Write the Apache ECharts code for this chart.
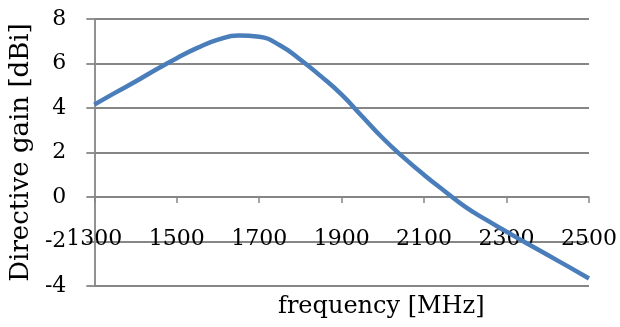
<!DOCTYPE html>
<html>
<head>
<meta charset="utf-8">
<script src="https://cdn.jsdelivr.net/npm/echarts@6/dist/echarts.min.js"></script>
<style>
  html, body { margin: 0; padding: 0; background: #fff; }
  #chart { width: 620px; height: 327px; }
</style>
</head>
<body>
<div id="chart"></div>
<script>
  // frequency [MHz] and directive gain [dBi]
  var freq = [1300, 1350, 1400, 1450, 1500, 1550, 1600, 1650, 1700, 1750, 1800, 1850, 1900,
    1950, 2000, 2050, 2100, 2150, 2200, 2250, 2300, 2350, 2400, 2450, 2500]
  var gain = [4.15, 4.68, 5.19, 5.73, 6.24, 6.70, 7.07, 7.26, 7.20, 6.82, 6.17, 5.42, 4.60,
    3.62, 2.64, 1.78, 0.99, 0.26, -0.44, -1.02, -1.56, -2.09, -2.61, -3.13, -3.66]
  var xTicks = [1300, 2500, 200]
  var yTicks = [-4, 8, 2]

  var fontFamily = 'DejaVu Serif'
  var grey = '#868686'

  var mychart = echarts.init(document.getElementById('chart'))
  var options = {
    animation: false,
    title: {
      text: 'frequency [MHz]',
      left: 273,
      top: 290,
      textStyle: { fontFamily: fontFamily, fontSize: 24, fontWeight: 'normal', color: '#000' }
    },
    grid: {
      left: 88,
      right: 31,
      top: 19,
      bottom: 41
    },
    xAxis: {
      type: 'value',
      min: xTicks[0],
      max: xTicks[1],
      interval: xTicks[2],
      offset: -89, // x axis crosses the y axis at 0
      axisLine: { onZero: false, lineStyle: { color: grey, width: 1.5 } },
      axisTick: { show: true, length: 6, lineStyle: { color: grey, width: 1.5 } },
      axisLabel: {
        margin: 31,
        color: '#000',
        fontFamily: fontFamily,
        fontSize: 22,
        formatter: function (v) { return String(v) }
      },
      splitLine: { show: false }
    },
    yAxis: {
      type: 'value',
      min: yTicks[0],
      max: yTicks[1],
      interval: yTicks[2],
      name: 'Directive gain [dBi]',
      nameLocation: 'middle',
      nameGap: 48,
      nameTextStyle: { fontFamily: fontFamily, fontSize: 26, color: '#000' },
      axisLine: { show: true, onZero: false, lineStyle: { color: grey, width: 1.8 } },
      axisTick: { show: true, length: 8, lineStyle: { color: grey, width: 1.8 } },
      axisLabel: { margin: 28, color: '#000', fontFamily: fontFamily, fontSize: 22 },
      splitLine: { show: true, lineStyle: { color: grey, width: 1.8 } }
    },
    series: [
      {
        type: 'line',
        smooth: true,
        showSymbol: false,
        data: freq.map(function (f, i) { return [f, gain[i]] }),
        lineStyle: { color: '#4a7ebb', width: 4.5 }
      }
    ]
  }
  mychart.setOption(options)
</script>
</body>
</html>
